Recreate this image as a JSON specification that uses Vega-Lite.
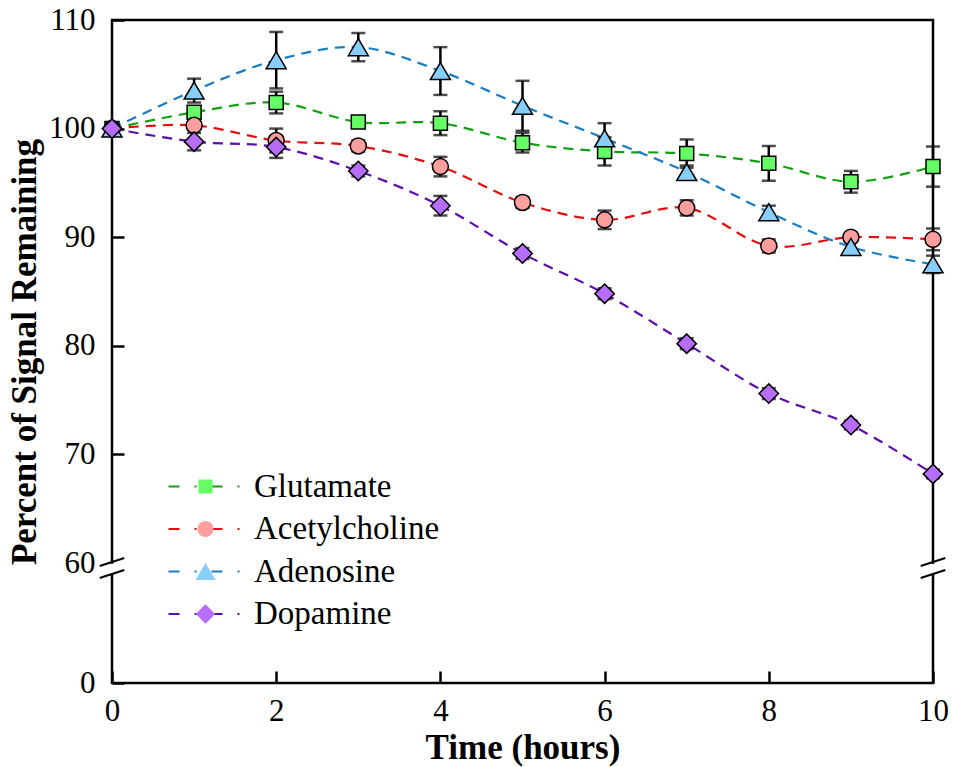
{
  "$schema": "https://vega.github.io/schema/vega-lite/v6.json",
  "width": 821,
  "height": 663,
  "autosize": "none",
  "padding": {"left": 112, "top": 20, "right": 20, "bottom": 84},
  "background": "white",
  "config": {
    "font": "Liberation Serif",
    "view": {"stroke": "black", "strokeWidth": 2.5},
    "axis": {
      "grid": false,
      "domain": false,
      "tickColor": "black",
      "tickWidth": 2.5,
      "tickSize": -12,
      "labelColor": "black",
      "labelFontSize": 31,
      "labelFont": "Liberation Serif",
      "labelFlush": false,
      "labelOverlap": false,
      "format": "d",
      "titleFont": "Liberation Serif",
      "titleFontSize": 35,
      "titleFontWeight": "bold",
      "titleColor": "black"
    }
  },
  "datasets": {
    "series": [
      {"t": 0, "name": "Glutamate", "v": 100, "err": 0},
      {"t": 1, "name": "Glutamate", "v": 101.5, "err": 0.5},
      {"t": 2, "name": "Glutamate", "v": 102.4, "err": 1.0},
      {"t": 3, "name": "Glutamate", "v": 100.6, "err": 0.5},
      {"t": 4, "name": "Glutamate", "v": 100.5, "err": 1.1},
      {"t": 5, "name": "Glutamate", "v": 98.7, "err": 0.9},
      {"t": 6, "name": "Glutamate", "v": 97.9, "err": 1.3},
      {"t": 7, "name": "Glutamate", "v": 97.7, "err": 1.3},
      {"t": 8, "name": "Glutamate", "v": 96.8, "err": 1.6},
      {"t": 9, "name": "Glutamate", "v": 95.1, "err": 1.0},
      {"t": 10, "name": "Glutamate", "v": 96.5, "err": 1.85},
      {"t": 0, "name": "Acetylcholine", "v": 100, "err": 0},
      {"t": 1, "name": "Acetylcholine", "v": 100.3, "err": 0.4},
      {"t": 2, "name": "Acetylcholine", "v": 98.9, "err": 1.1},
      {"t": 3, "name": "Acetylcholine", "v": 98.4, "err": 0.5},
      {"t": 4, "name": "Acetylcholine", "v": 96.5, "err": 0.9},
      {"t": 5, "name": "Acetylcholine", "v": 93.2, "err": 0.5},
      {"t": 6, "name": "Acetylcholine", "v": 91.6, "err": 0.85},
      {"t": 7, "name": "Acetylcholine", "v": 92.7, "err": 0.7},
      {"t": 8, "name": "Acetylcholine", "v": 89.2, "err": 0.6},
      {"t": 9, "name": "Acetylcholine", "v": 90.0, "err": 0.4},
      {"t": 10, "name": "Acetylcholine", "v": 89.8, "err": 1.0},
      {"t": 0, "name": "Adenosine", "v": 100, "err": 0},
      {"t": 1, "name": "Adenosine", "v": 103.5, "err": 1.1},
      {"t": 2, "name": "Adenosine", "v": 106.3, "err": 2.6},
      {"t": 3, "name": "Adenosine", "v": 107.5, "err": 1.3},
      {"t": 4, "name": "Adenosine", "v": 105.3, "err": 2.2},
      {"t": 5, "name": "Adenosine", "v": 102.1, "err": 2.3},
      {"t": 6, "name": "Adenosine", "v": 99.1, "err": 1.4},
      {"t": 7, "name": "Adenosine", "v": 96.0, "err": 0.6},
      {"t": 8, "name": "Adenosine", "v": 92.3, "err": 0.6},
      {"t": 9, "name": "Adenosine", "v": 89.1, "err": 0.5},
      {"t": 10, "name": "Adenosine", "v": 87.5, "err": 0.8},
      {"t": 0, "name": "Dopamine", "v": 100, "err": 0},
      {"t": 1, "name": "Dopamine", "v": 98.8, "err": 0.8},
      {"t": 2, "name": "Dopamine", "v": 98.3, "err": 1.0},
      {"t": 3, "name": "Dopamine", "v": 96.1, "err": 0.5},
      {"t": 4, "name": "Dopamine", "v": 92.9, "err": 0.9},
      {"t": 5, "name": "Dopamine", "v": 88.5, "err": 0.5},
      {"t": 6, "name": "Dopamine", "v": 84.8, "err": 0.5},
      {"t": 7, "name": "Dopamine", "v": 80.2, "err": 0.5},
      {"t": 8, "name": "Dopamine", "v": 75.6, "err": 0.5},
      {"t": 9, "name": "Dopamine", "v": 72.7, "err": 0.4},
      {"t": 10, "name": "Dopamine", "v": 68.2, "err": 0.4}
    ],
    "breaks": [
      {"x": -0.15, "y": 58.5, "x2": 0.15, "y2": 60.46},
      {"x": -0.15, "y": 52.5, "x2": 0.15, "y2": 56.5},
      {"x": 9.85, "y": 58.5, "x2": 10.15, "y2": 60.46},
      {"x": 9.85, "y": 52.5, "x2": 10.15, "y2": 56.5}
    ],
    "gaps": [
      {"x": 0, "y": 59.6, "y2": 54.4},
      {"x": 10, "y": 59.6, "y2": 54.4}
    ]
  },
  "layer": [
    {
      "data": {"name": "series"},
      "mark": {"type": "line", "interpolate": "catmull-rom", "strokeWidth": 2.2, "strokeDash": [10, 7]},
      "encoding": {
        "x": {
          "field": "t", "type": "quantitative", "title": "Time (hours)",
          "scale": {"domain": [0, 10], "nice": false},
          "axis": {"values": [0, 2, 4, 6, 8, 10], "format": "d", "labelPadding": 25, "titlePadding": 4}
        },
        "y": {
          "field": "v", "type": "quantitative", "title": "Percent of Signal Remaining",
          "scale": {"domain": [0, 60, 110], "range": [663, 543, 0], "nice": false, "zero": false},
          "axis": {
            "values": [0, 60, 70, 80, 90, 100, 110],
            "format": "d",
            "labelPadding": 29,
            "titlePadding": 6,
            "tickOpacity": {"condition": {"test": "datum.value == 60", "value": 0}, "value": 1}
          }
        },
        "stroke": {
          "field": "name", "type": "nominal",
          "sort": ["Glutamate", "Acetylcholine", "Adenosine", "Dopamine"],
          "scale": {"range": ["#12a012", "#e01010", "#1a7cc1", "#5b0fa8"]},
          "legend": {
            "orient": "none", "legendX": 79, "legendY": 450, "title": null,
            "symbolType": "M-7.8,0L7.8,0", "symbolSize": 100, "symbolStrokeWidth": 2.2,
            "symbolDash": [11, 15, 2, 15],
            "labelFontSize": 33, "labelFont": "Liberation Serif", "labelColor": "black",
            "labelLimit": 400, "labelOffset": 30, "rowPadding": 8.5
          }
        }
      }
    },
    {
      "data": {"name": "series"},
      "mark": {"type": "errorbar", "ticks": true, "size": 14, "thickness": 2.5, "color": "black"},
      "encoding": {
        "x": {"field": "t", "type": "quantitative", "title": "Time (hours)"},
        "y": {"field": "v", "type": "quantitative", "title": "Percent of Signal Remaining"},
        "yError": {"field": "err"}
      }
    },
    {
      "data": {"name": "series"},
      "mark": {"type": "point", "filled": true, "stroke": "black", "strokeWidth": 1.5, "opacity": 1, "size": 400},
      "encoding": {
        "x": {"field": "t", "type": "quantitative", "title": "Time (hours)"},
        "y": {"field": "v", "type": "quantitative", "title": "Percent of Signal Remaining"},
        "fill": {
          "field": "name", "type": "nominal",
          "scale": {"domain": ["Glutamate", "Acetylcholine", "Adenosine", "Dopamine"], "range": ["#66fc66", "#ff9e9e", "#87cefa", "#b76dfa"]},
          "legend": {
            "orient": "none", "legendX": 77, "legendY": 450, "title": null,
            "symbolSize": 400, "symbolStrokeColor": "black", "symbolStrokeWidth": 1.5, "symbolOpacity": 1,
            "labelFontSize": 33, "labelFont": "Liberation Serif", "labelExpr": "' '", "rowPadding": 8.5
          }
        },
        "shape": {
          "field": "name", "type": "nominal",
          "scale": {
            "domain": ["Glutamate", "Acetylcholine", "Adenosine", "Dopamine"],
            "range": [
              "M-0.7,-0.7L0.7,-0.7L0.7,0.7L-0.7,0.7Z",
              "M0.8,0A0.8,0.8,0,1,1,-0.8,0A0.8,0.8,0,1,1,0.8,0Z",
              "M0,-0.85L1,0.85L-1,0.85Z",
              "M0,-0.97L0.97,0L0,0.97L-0.97,0Z"
            ]
          },
          "legend": {
            "orient": "none", "legendX": 77, "legendY": 450, "title": null,
            "symbolSize": 400, "symbolStrokeColor": "black", "symbolStrokeWidth": 1.5, "symbolOpacity": 1,
            "labelFontSize": 33, "labelFont": "Liberation Serif", "labelExpr": "' '", "rowPadding": 8.5
          }
        }
      }
    },
    {
      "data": {"name": "gaps"},
      "mark": {"type": "rule", "color": "white", "strokeWidth": 6},
      "encoding": {
        "x": {"field": "x", "type": "quantitative"},
        "y": {"field": "y", "type": "quantitative"},
        "y2": {"field": "y2"}
      }
    },
    {
      "data": {"name": "breaks"},
      "mark": {"type": "rule", "color": "black", "strokeWidth": 2},
      "encoding": {
        "x": {"field": "x", "type": "quantitative"},
        "x2": {"field": "x2"},
        "y": {"field": "y", "type": "quantitative"},
        "y2": {"field": "y2"}
      }
    }
  ]
}
